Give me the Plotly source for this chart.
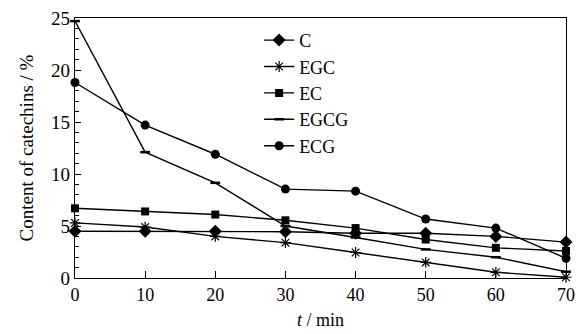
import plotly.graph_objects as go

t = [0, 10, 20, 30, 40, 50, 60, 70]
C = [4.5, 4.5, 4.5, 4.45, 4.3, 4.3, 4.0, 3.45]
EGC = [5.3, 4.9, 4.0, 3.4, 2.45, 1.5, 0.55, 0.07]
EC = [6.7, 6.4, 6.1, 5.55, 4.8, 3.7, 2.9, 2.6]
EGCG = [24.7, 12.1, 9.15, 5.0, 3.9, 2.75, 2.0, 0.6]
ECG = [18.8, 14.7, 11.9, 8.55, 8.35, 5.67, 4.8, 1.9]

series = [
    ("C", C, dict(symbol="diamond", size=10)),
    ("EGC", EGC, dict(symbol="asterisk-open", size=9, line=dict(width=1.2, color="black"))),
    ("EC", EC, dict(symbol="square", size=8)),
    ("EGCG", EGCG, dict(symbol="line-ew-open", size=7, line=dict(width=2.5, color="black"))),
    ("ECG", ECG, dict(symbol="circle", size=9)),
]

fig = go.Figure()
for name, vals, mk in series:
    m = dict(color="black")
    m.update(mk)
    fig.add_trace(go.Scatter(x=t, y=vals, name=name, mode="lines+markers",
                             line=dict(color="black", width=1.4), marker=m,
                             cliponaxis=False))

font = "Liberation Serif"
fig.update_layout(
    width=583, height=334,
    margin=dict(l=75, r=8, t=16, b=55),
    plot_bgcolor="white", paper_bgcolor="white",
    font=dict(family=font, size=18, color="black"),
    showlegend=True,
    legend=dict(x=0.375, y=0.985, xanchor="left", yanchor="top",
                bgcolor="rgba(0,0,0,0)", font=dict(size=18, family=font),
                tracegroupgap=0, itemwidth=30),
    xaxis=dict(range=[0, 70], tickmode="linear", tick0=0, dtick=10,
               ticks="inside", ticklen=7, tickcolor="black", showline=True,
               linecolor="black", linewidth=1.2, mirror=True, showgrid=False,
               zeroline=False, tickfont=dict(size=18),
               title=dict(text="<i>t</i> / min", font=dict(size=18), standoff=9)),
    yaxis=dict(range=[0, 25], tickmode="linear", tick0=0, dtick=5,
               ticks="inside", ticklen=6, tickcolor="black", showline=True,
               linecolor="black", linewidth=1.2, mirror=True, showgrid=False,
               zeroline=False, tickfont=dict(size=19),
               minor=dict(dtick=1, ticks="inside", ticklen=4, tickcolor="black"),
               title=dict(text="Content of catechins / %", font=dict(size=19), standoff=12)),
)
fig.write_html("out.html")
